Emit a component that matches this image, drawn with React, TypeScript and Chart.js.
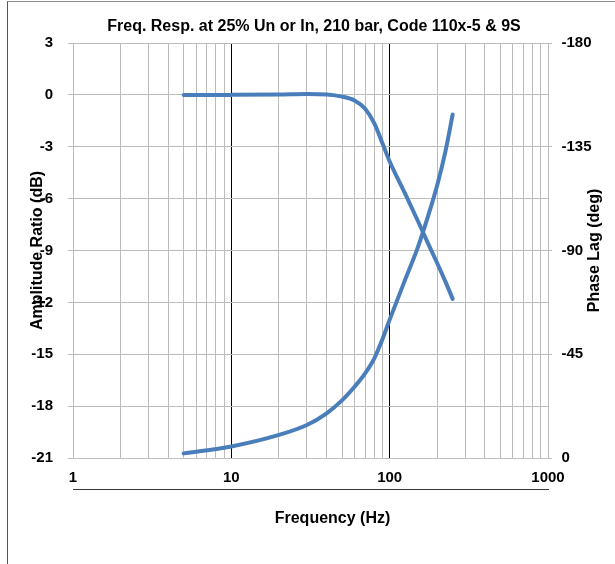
import { useEffect, useRef } from 'react';
import { Chart, registerables } from 'chart.js';

Chart.register(...registerables);

// ---- data ----
const frequencies = [5, 10, 20, 30, 40, 50, 60, 70, 80, 90, 100, 125, 150, 175, 200, 225, 250];
const amplitudeDb = [0, 0, 0.02, 0.05, 0.02, -0.1, -0.32, -0.8, -1.65, -2.8, -3.85, -5.7, -7.25, -8.6, -9.75, -10.8, -11.8];
const phaseLagDeg = [-2, -5, -10, -14.3, -19.4, -25, -30.9, -36.7, -43.2, -51.5, -60, -77.2, -91, -105, -118.5, -133, -149];

// ---- axes ----
const freqLabelTicks = [1, 10, 100, 1000];
const freqGridTicks = [1, 2, 3, 4, 5, 6, 7, 8, 9, 10, 20, 30, 40, 50, 60, 70, 80, 90, 100, 200, 300, 400, 500, 600, 700, 800, 900, 1000];
const freqBlackGrid = [10, 100];
const ampRange = [-21, 3];
const ampStep = 3;
const phaseRange = [-180, 0];
const phaseStep = 45;

const chartTitle = 'Freq. Resp. at 25% Un or In, 210 bar, Code 110x-5 & 9S';
const xTitle = 'Frequency (Hz)';
const yTitle = 'Amplitude Ratio (dB)';
const y1Title = 'Phase Lag (deg)';

const FONT = '"Liberation Sans", Arial, sans-serif';
const LINE = '#4a7ebb';
const GRID = '#bcbcbc';

const axisTitlesPlugin = {
  id: 'axisTitles',
  afterDraw(chart: any) {
    const { ctx, chartArea: a } = chart;
    ctx.save();
    ctx.fillStyle = '#000';
    ctx.font = `bold 16px ${FONT}`;
    ctx.textAlign = 'center';
    ctx.textBaseline = 'middle';
    const cy = (a.top + a.bottom) / 2;
    ctx.fillText(xTitle, (a.left + a.right) / 2 + 22, chart.scales.x2.top + 30);
    ctx.save();
    ctx.translate(a.left - 35, cy);
    ctx.rotate(-Math.PI / 2);
    ctx.fillText(yTitle, 0, 0);
    ctx.restore();
    ctx.save();
    ctx.translate(a.right + 47, cy);
    ctx.rotate(-Math.PI / 2);
    ctx.fillText(y1Title, 0, 0);
    ctx.restore();
    ctx.restore();
  },
};

export default function App() {
  const ref = useRef<HTMLCanvasElement>(null);

  useEffect(() => {
    const canvas = ref.current!;
    const lineStyle = {
      borderColor: LINE,
      borderWidth: 4,
      pointRadius: 0,
      cubicInterpolationMode: 'monotone',
      borderCapStyle: 'round',
      borderJoinStyle: 'round',
    };
    const chart = new Chart(canvas, {
      type: 'line',
      data: {
        datasets: [
          {
            label: 'Amplitude Ratio',
            data: frequencies.map((f, i) => ({ x: f, y: amplitudeDb[i] })),
            yAxisID: 'y',
            ...lineStyle,
          },
          {
            label: 'Phase Lag',
            data: frequencies.map((f, i) => ({ x: f, y: phaseLagDeg[i] })),
            yAxisID: 'y1',
            ...lineStyle,
          },
        ],
      },
      options: {
        responsive: false,
        animation: false,
        devicePixelRatio: 1,
        layout: { padding: { left: 5, right: 0, top: 0, bottom: 0 } },
        plugins: {
          legend: { display: false },
          tooltip: { enabled: false },
          title: {
            display: true,
            text: chartTitle,
            color: '#000',
            font: { family: FONT, size: 16, weight: 'bold' },
            padding: { top: 15, bottom: 6.8 },
          },
        },
        scales: {
          x: {
            type: 'logarithmic',
            position: 'bottom',
            min: freqLabelTicks[0],
            max: freqLabelTicks[freqLabelTicks.length - 1],
            afterBuildTicks: (s: any) => {
              s.ticks = freqGridTicks.map((v) => ({ value: v, major: freqLabelTicks.includes(v) }));
            },
            afterFit: (s: any) => {
              s.height = 31;
            },
            ticks: {
              autoSkip: false,
              maxRotation: 0,
              color: '#000',
              font: { family: FONT, size: 15, weight: 'bold' },
              padding: 11,
              callback: (v: any) => (freqLabelTicks.includes(Number(v)) ? String(v) : ''),
            },
            grid: {
              color: (c: any) => (c.tick && freqBlackGrid.includes(c.tick.value) ? '#000' : GRID),
              lineWidth: 1,
              drawTicks: false,
            },
            border: { color: GRID },
          },
          x2: {
            type: 'linear',
            position: 'bottom',
            weight: 1,
            min: 0,
            max: 1,
            afterFit: (s: any) => {
              s.height = 75;
            },
            ticks: { display: false },
            grid: { drawOnChartArea: false, drawTicks: false },
            border: { color: '#3a3a3a', width: 1 },
          },
          y: {
            type: 'linear',
            position: 'left',
            min: ampRange[0],
            max: ampRange[1],
            afterFit: (s: any) => {
              s.width = 60;
            },
            ticks: {
              stepSize: ampStep,
              color: '#000',
              font: { family: FONT, size: 15, weight: 'bold' },
              padding: 15,
            },
            grid: { color: GRID, lineWidth: 1, tickLength: 5 },
            border: { color: GRID },
          },
          y1: {
            type: 'linear',
            position: 'right',
            reverse: true,
            min: phaseRange[0],
            max: phaseRange[1],
            afterFit: (s: any) => {
              s.width = 67;
            },
            ticks: {
              stepSize: phaseStep,
              color: '#000',
              font: { family: FONT, size: 15, weight: 'bold' },
              padding: 9.5,
            },
            grid: { color: GRID, lineWidth: 1, tickLength: 4, drawOnChartArea: false },
            border: { color: GRID },
          },
        },
      } as any,
      plugins: [axisTitlesPlugin],
    });
    return () => chart.destroy();
  }, []);

  return (
    <div
      style={{
        position: 'fixed',
        left: 7,
        top: 1,
        width: 608,
        height: 563,
        boxSizing: 'border-box',
        borderLeft: '1px solid #555',
        borderTop: '1px solid #8c8c8c',
        background: '#fff',
      }}
    >
      <canvas ref={ref} width={607} height={562} style={{ display: 'block', width: 607, height: 562 }} />
    </div>
  );
}
